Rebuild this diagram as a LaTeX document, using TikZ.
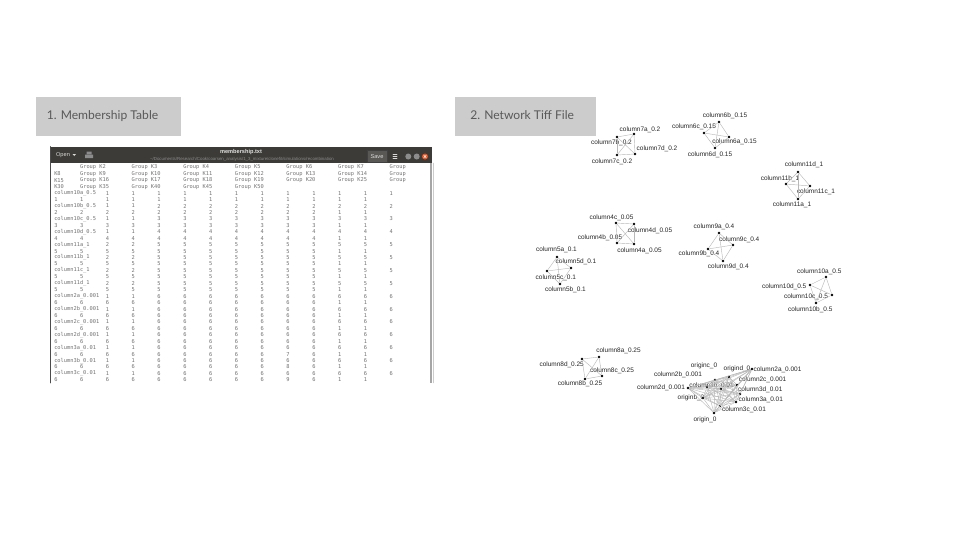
\documentclass[tikz,border=0pt]{standalone}
\usepackage{fontspec}
\setmainfont{Lato}
\newfontfamily\lbf{Liberation Sans}
\newfontfamily\edf{DejaVu Sans Mono}
\definecolor{slidegray}{HTML}{CCCCCC}
\definecolor{slidetext}{HTML}{595959}
\definecolor{barcol}{HTML}{3C3B37}
\definecolor{ubuorange}{HTML}{E95420}
% graph node: name, dot position, label, label position
\newcommand\gn[4]{\node[dot] (#1) at (#2) {}; \node[lbl] (#1l) at (#4) {#3};}
\newcommand\tabx[1]{54+25.8*(#1-1)}
\newcommand\liney[1]{167.4+6.44*(#1)}
\begin{document}
\begin{tikzpicture}[x=0.025cm,y=-0.025cm,line cap=round,
  tagtxt/.style={anchor=base west,inner sep=0,font=\fontsize{8.6}{10}\selectfont,text=slidetext},
  edtxt/.style={anchor=west,inner sep=0,font=\edf\fontsize{3.8}{5}\selectfont,text=black!55},
  bartxt/.style={inner sep=0,font=\lbf\fontsize{4}{5}\selectfont,text=black!15},
  dot/.style={circle,fill=black,inner sep=0,minimum size=2.1pt},
  lbl/.style={inner sep=0,font=\lbf\fontsize{4.6}{5}\selectfont,text=black!85},
  edge/.style={black!28,line width=0.3pt}]
\fill[white] (0,0) rectangle (960,540);
\useasboundingbox (0,0) rectangle (960,540);

% the two slide tags
\fill[slidegray] (36,97) rectangle (181,136);
\node[tagtxt] (tabtag) at (46.5,119.3) {1. Membership Table};
\fill[slidegray] (455,97) rectangle (596,136);
\node[tagtxt] (nettag) at (470,119.3) {2. Network Tiff File};

% editor window
\fill[white] (50,146.5) rectangle (433,383);
\fill[barcol] (50,146.5) rectangle (432,163);
\draw[black!70,line width=0.5pt] (50.3,146.5) -- (50.3,383);
\fill[black!35] (430,163) rectangle (432,383);
\draw[black!20,line width=0.3pt] (432.8,163) -- (432.8,383);
\node[bartxt] (opn) at (63,155) {Open};
\fill[black!15] (72.5,154) -- (76,154) -- (74.25,156) -- cycle;
\fill[black!45] (86.5,151.5) rectangle (91.5,154) (85,154.5) rectangle (93,158);
\node[bartxt,font=\lbf\bfseries\fontsize{4}{5}\selectfont,text=black!12] (ttl) at (241,152.3) {membership.txt};
\node[bartxt,font=\lbf\fontsize{3.1}{4}\selectfont,text=black!45] (pth) at (242,159)
  {\textasciitilde/Documents/Research/Cook/coarsen\_analysis/1\_3\_mixture/clonefit/simulations/recombination};
\node[bartxt,draw=black!75,fill=barcol!85!white,minimum width=0.5cm,minimum height=0.3cm] (sav) at (377,156.5) {Save};
\foreach \yy in {154.5,156.5,158.5} \draw[black!15,line width=0.5pt] (393,\yy) -- (397,\yy);
\fill[black!45] (408.3,156.5) circle (3) (416.7,156.5) circle (3);
\fill[ubuorange] (425,156.5) circle (3);
\draw[white,line width=0.4pt] (423.8,155.3) -- (426.2,157.7) (423.8,157.7) -- (426.2,155.3);

\begin{scope}
\clip (51,163) rectangle (430,383);
\foreach \cells [count=\l from 0] in {
  {,Group K2,,Group K3,,Group K4,,Group K5,,Group K6,,Group K7,,Group},
  {K8,Group K9,,Group K10,,Group K11,,Group K12,,Group K13,,Group K14,,Group},
  {K15,Group K16,,Group K17,,Group K18,,Group K19,,Group K20,,Group K25,,Group},
  {K30,Group K35,,Group K40,,Group K45,,Group K50}}
  \foreach \c [count=\k] in \cells \node[edtxt] at ({\tabx{\k}},{\liney{\l}}) {\c};
\foreach \nm/\a/\v/\w [count=\r from 0] in {column10a\_0.5/1/1/1,column10b\_0.5/1/2/2,
  column10c\_0.5/1/3/3,column10d\_0.5/1/4/4,column11a\_1/2/5/5,column11b\_1/2/5/5,
  column11c\_1/2/5/5,column11d\_1/2/5/5,column2a\_0.001/1/6/6,column2b\_0.001/1/6/6,
  column2c\_0.001/1/6/6,column2d\_0.001/1/6/6,column3a\_0.01/1/6/7,column3b\_0.01/1/6/8,
  column3c\_0.01/1/6/9}{
  \pgfmathsetmacro\ya{\liney{4+2*\r}}
  \pgfmathsetmacro\yb{\liney{5+2*\r}}
  \node[edtxt] at ({\tabx{1}},\ya) {\nm};
  \foreach \k in {3,...,14} \node[edtxt] at ({\tabx{\k}},\ya) {\ifnum\k<5 \a\else\v\fi};
  \foreach \k in {1,...,13} \node[edtxt] at ({\tabx{\k}},\yb) {\ifnum\k>11 1\else\ifnum\k=10 \w\else\v\fi\fi};
}
\end{scope}

% network
\gn{c7a}{634,134}{column7a\_0.2}{640,129.3}
\gn{c7b}{617,137}{column7b\_0.2}{611.5,142.7}
\gn{c7c}{617,155}{column7c\_0.2}{612,161.3}
\gn{c7d}{635,154}{column7d\_0.2}{657,148.7}
\gn{c6a}{729,137}{column6a\_0.15}{734.5,142}
\gn{c6b}{719,122}{column6b\_0.15}{725,115.7}
\gn{c6c}{704,133}{column6c\_0.15}{694,126.7}
\gn{c6d}{715,148}{column6d\_0.15}{710,154.3}
\gn{c11a}{798,199}{column11a\_1}{792,204.3}
\gn{c11b}{786,184}{column11b\_1}{780,178.7}
\gn{c11c}{810,186}{column11c\_1}{816,191.7}
\gn{c11d}{798,172}{column11d\_1}{804,164.7}
\gn{c10a}{826,277}{column10a\_0.5}{819.3,271.3}
\gn{c10b}{816,303}{column10b\_0.5}{810.3,309.3}
\gn{c10c}{832,295}{column10c\_0.5}{806,296.7}
\gn{c10d}{810,285}{column10d\_0.5}{784.2,286.7}
\gn{c4a}{634,244}{column4a\_0.05}{639.5,250.7}
\gn{c4b}{617,243}{column4b\_0.05}{600,238}
\gn{c4c}{616,223}{column4c\_0.05}{611.5,217.3}
\gn{c4d}{634,224}{column4d\_0.05}{650,230.7}
\gn{c5a}{557,257}{column5a\_0.1}{556.5,249.3}
\gn{c5b}{560,284}{column5b\_0.1}{565.5,290}
\gn{c5c}{547,271}{column5c\_0.1}{555.8,277.3}
\gn{c5d}{571,268}{column5d\_0.1}{576,262}
\gn{c9a}{719,233}{column9a\_0.4}{714,226.7}
\gn{c9b}{708,249}{column9b\_0.4}{699,254}
\gn{c9c}{733,245}{column9c\_0.4}{739.2,239.3}
\gn{c9d}{723,261}{column9d\_0.4}{728.3,266.3}
\gn{c8a}{599,357}{column8a\_0.25}{618.5,350.7}
\gn{c8b}{585,379}{column8b\_0.25}{580,384}
\gn{c8c}{602,376}{column8c\_0.25}{612,370.7}
\gn{c8d}{582,359}{column8d\_0.25}{561.7,365}
\foreach \g in {7,6,11,10,4,5,9,8}
  \foreach \i/\j in {a/b,a/c,a/d,b/c,b/d,c/d} \draw[edge] (c\g\i) -- (c\g\j);

% the dense group
\gn{oc}{715,380}{originc\_0}{704,365.5}
\gn{od}{729,377}{origind\_0}{737,369.3}
\gn{c2a}{752,369}{column2a\_0.001}{777.5,369.3}
\gn{c2b}{707,387}{column2b\_0.001}{678,375}
\gn{c2c}{737,385}{column2c\_0.001}{762.5,380}
\gn{c2d}{688,388}{column2d\_0.001}{661,387.7}
\gn{c3a}{736,402}{column3a\_0.01}{760.8,400}
\gn{c3b}{721,389}{column3b\_0.01}{711.5,385.7}
\gn{c3c}{720,406}{column3c\_0.01}{744,410}
\gn{c3d}{740,394}{column3d\_0.01}{760.3,390}
\gn{ob}{703,398}{originb\_0}{691,397.7}
\gn{o0}{714,413}{origin\_0}{705,420}
\foreach \u [count=\i] in {oc,od,c2a,c2b,c2c,c2d,c3a,c3b,c3c,c3d,ob,o0}
  \foreach \v [count=\j] in {oc,od,c2a,c2b,c2c,c2d,c3a,c3b,c3c,c3d,ob,o0}
    {\ifnum\i<\j \draw[edge] (\u) -- (\v);\fi}
\end{tikzpicture}
\end{document}
